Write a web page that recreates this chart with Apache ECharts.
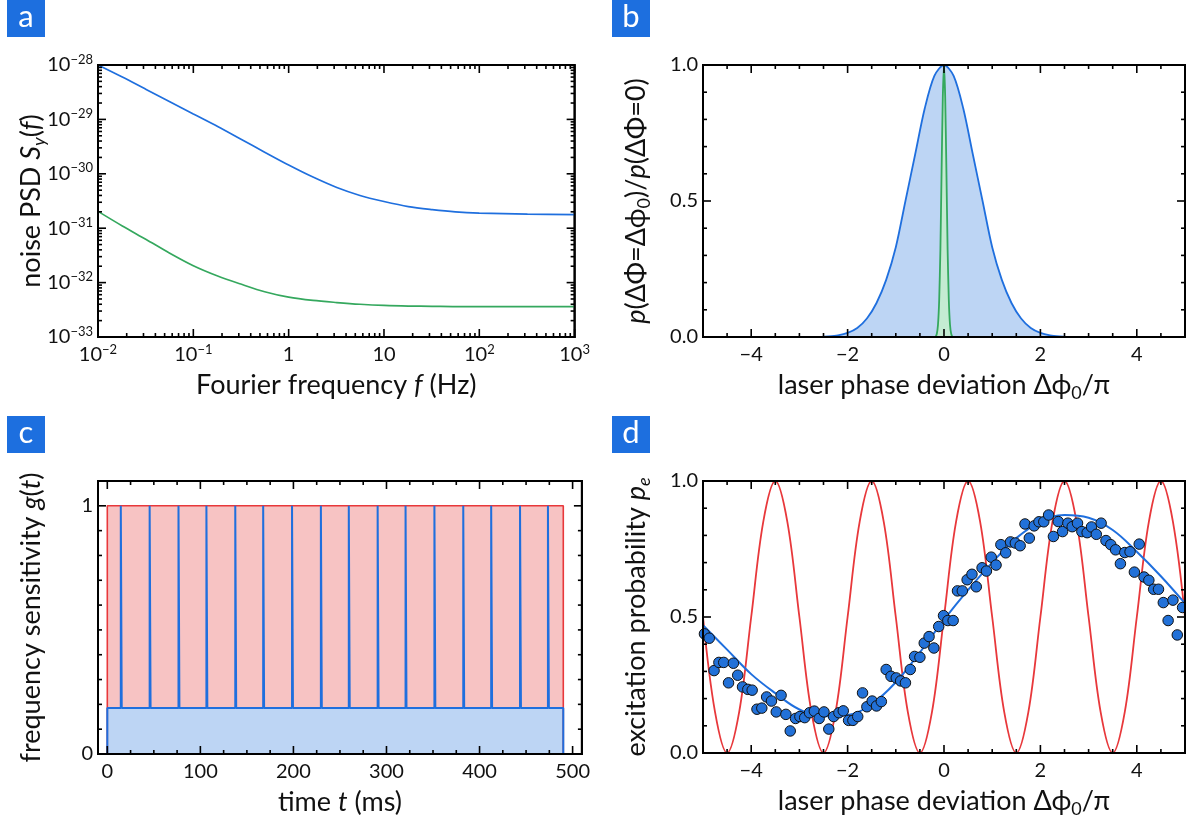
<!DOCTYPE html>
<html>
<head>
<meta charset="utf-8">
<script src="https://cdn.jsdelivr.net/npm/echarts@6/dist/echarts.min.js"></script>
<style>
  html, body { margin: 0; padding: 0; background: #fff; }
  #wrap { position: relative; width: 1186px; height: 823px; }
  .panel { position: absolute; width: 593px; height: 412px; }
</style>
</head>
<body>
<div id="wrap">
  <div id="pa" class="panel" style="left:0;top:0"></div>
  <div id="pb" class="panel" style="left:593px;top:0"></div>
  <div id="pc" class="panel" style="left:0;top:411px"></div>
  <div id="pd" class="panel" style="left:593px;top:411px"></div>
</div>
<script>
// ---- panel a: noise PSD ----
const psdFreq  = [0.01, 0.018, 0.032, 0.056, 0.1, 0.18, 0.32, 0.56, 1, 1.8, 3.2, 5.6, 10, 18, 32, 56, 100, 320, 1000];
const psdBlue  = [1.0e-28, 6.0e-29, 3.55e-29, 2.14e-29, 1.26e-29, 7.4e-30, 4.27e-30, 2.5e-30, 1.45e-30, 8.7e-31, 5.6e-31, 4.0e-31, 3.1e-31, 2.5e-31, 2.2e-31, 2.0e-31, 1.9e-31, 1.82e-31, 1.78e-31];
const psdGreen = [2.04e-31, 1.10e-31, 6.2e-32, 3.5e-32, 2.04e-32, 1.32e-32, 9.3e-33, 6.8e-33, 5.4e-33, 4.7e-33, 4.3e-33, 4.0e-33, 3.8e-33, 3.7e-33, 3.67e-33, 3.63e-33, 3.63e-33, 3.63e-33, 3.63e-33];
// the log axis runs in units of 1e-33 (the v6 log scale loses precision near 1e-33)
const PSD_UNIT_EXP = -33;

// ---- panel b: phase distributions ----
const distX     = [-2.6, -2.4, -2.2, -2.0, -1.8, -1.6, -1.4, -1.2, -1.0, -0.8, -0.6, -0.4, -0.2, 0, 0.2, 0.4, 0.6, 0.8, 1.0, 1.2, 1.4, 1.6, 1.8, 2.0, 2.2, 2.4, 2.6];
const distBlue  = [0, 0.002, 0.006, 0.015, 0.033, 0.068, 0.125, 0.21, 0.33, 0.5, 0.67, 0.84, 0.96, 1, 0.96, 0.84, 0.67, 0.5, 0.33, 0.21, 0.125, 0.068, 0.033, 0.015, 0.006, 0.002, 0];
const narrowX   = [-0.175, -0.15, -0.125, -0.1, -0.075, -0.05, -0.025, 0, 0.025, 0.05, 0.075, 0.1, 0.125, 0.15, 0.175];
const distGreen = [0, 0.011, 0.044, 0.135, 0.32, 0.61, 0.88, 1, 0.88, 0.61, 0.32, 0.135, 0.044, 0.011, 0];

// ---- panel c: sensitivity function ----
const pulseStart = 0;
const pulseEnd = 490;
const baseLevel = 0.185;
const spikeTimes = [15, 46, 77, 107, 138, 168, 199, 230, 260, 291, 321, 352, 383, 413, 444, 474];

// ---- panel d: excitation probability ----
const fringeX = [-5, -4.75, -4.5, -4.25, -4, -3.75, -3.5, -3.25, -3, -2.75, -2.5, -2.25, -2, -1.75, -1.5, -1.25, -1, -0.75, -0.5, -0.25, 0,
                 0.25, 0.5, 0.75, 1, 1.25, 1.5, 1.75, 2, 2.25, 2.5, 2.75, 3, 3.25, 3.5, 3.75, 4, 4.25, 4.5, 4.75, 5];
const fringeRed = [0.5, 0.15, 0, 0.15, 0.5, 0.85, 1, 0.85, 0.5, 0.15, 0, 0.15, 0.5, 0.85, 1, 0.85, 0.5, 0.15, 0, 0.15, 0.5,
                   0.85, 1, 0.85, 0.5, 0.15, 0, 0.15, 0.5, 0.85, 1, 0.85, 0.5, 0.15, 0, 0.15, 0.5, 0.85, 1, 0.85, 0.5];
const fitX    = [-5, -4.5, -4, -3.5, -3, -2.5, -2, -1.5, -1, -0.5, 0, 0.5, 1, 1.5, 2, 2.5, 3, 3.5, 4, 4.5, 5];
const fitBlue = [0.47, 0.38, 0.29, 0.22, 0.16, 0.135, 0.14, 0.18, 0.26, 0.37, 0.49, 0.6, 0.7, 0.79, 0.85, 0.875, 0.865, 0.82, 0.74, 0.65, 0.55];
const measured = [
  [-4.97,0.438],[-4.87,0.422],[-4.77,0.303],[-4.67,0.333],[-4.57,0.333],[-4.47,0.258],[-4.37,0.330],[-4.28,0.286],[-4.18,0.243],[-4.07,0.234],
  [-3.98,0.231],[-3.88,0.161],[-3.78,0.165],[-3.68,0.206],[-3.58,0.191],[-3.48,0.151],[-3.38,0.212],[-3.28,0.142],[-3.19,0.081],[-3.08,0.127],
  [-2.99,0.134],[-2.89,0.130],[-2.79,0.148],[-2.69,0.154],[-2.59,0.127],[-2.49,0.151],[-2.39,0.088],[-2.29,0.134],[-2.18,0.148],[-2.09,0.155],
  [-1.98,0.120],[-1.89,0.120],[-1.79,0.134],[-1.69,0.221],[-1.60,0.170],[-1.49,0.191],[-1.40,0.173],[-1.30,0.189],[-1.20,0.307],[-1.10,0.282],
  [-0.99,0.276],[-0.90,0.265],[-0.80,0.258],[-0.70,0.307],[-0.61,0.355],[-0.50,0.352],[-0.41,0.404],[-0.31,0.428],[-0.21,0.386],[-0.11,0.465],
  [-0.01,0.505],[0.08,0.487],[0.19,0.487],[0.28,0.596],[0.38,0.596],[0.48,0.637],[0.58,0.657],[0.67,0.611],[0.79,0.681],[0.88,0.669],
  [0.98,0.720],[1.08,0.691],[1.18,0.766],[1.28,0.736],[1.38,0.776],[1.48,0.772],[1.58,0.762],[1.68,0.842],[1.77,0.790],[1.87,0.835],
  [1.97,0.850],[2.07,0.850],[2.17,0.875],[2.27,0.796],[2.37,0.851],[2.46,0.814],[2.57,0.845],[2.66,0.832],[2.77,0.845],[2.86,0.814],
  [2.97,0.810],[3.06,0.831],[3.16,0.804],[3.26,0.845],[3.36,0.781],[3.46,0.766],[3.56,0.747],[3.66,0.696],[3.75,0.737],[3.86,0.740],
  [3.95,0.665],[4.05,0.768],[4.15,0.647],[4.25,0.635],[4.35,0.602],[4.45,0.602],[4.55,0.553],[4.65,0.487],[4.75,0.562],[4.84,0.434],[4.95,0.535]
];

// ---- tick values ----
const freqMajor = [0.01, 0.1, 1, 10, 100, 1000];
const psdMajor = [1, 10, 100, 1000, 10000, 100000];   // 1e-33 ... 1e-28
const phaseMajor = [-4, -2, 0, 2, 4];
const probMajor = [0, 0.5, 1];
const timeMajor = [0, 100, 200, 300, 400, 500];
const gMajor = [0, 1];

function logMinors(e0, e1) {
  const out = [];
  for (let e = e0; e < e1; e++) for (let k = 2; k <= 9; k++) out.push(+(k * Math.pow(10, e)).toPrecision(3));
  return out;
}
function linMinors(from, to, step, majors) {
  const out = [];
  for (let v = from; v <= to + 1e-9; v += step) {
    const r = Math.round(v * 1000) / 1000;
    if (majors.indexOf(r) < 0) out.push(r);
  }
  return out;
}

const FONT = 'Lato, sans-serif';
const INK = '#111';
const BLUE = '#1f6fde', BLUE_FILL = '#bdd5f4';
const GREEN = '#35a85e', GREEN_FILL = '#c4ebd2';
const RED = '#e8383b', RED_FILL = '#f7c3c3';

const tickRich = {
  b: { fontSize: 20, fontFamily: FONT, color: INK, lineHeight: 24, verticalAlign: 'middle' },
  s: { fontSize: 13, fontFamily: FONT, color: INK, lineHeight: 13, verticalAlign: 'top' }
};
const nameRich = {
  r: { fontSize: 27, fontFamily: FONT, color: INK, lineHeight: 34, verticalAlign: 'middle' },
  i: { fontSize: 27, fontFamily: FONT, color: INK, lineHeight: 34, fontStyle: 'italic', verticalAlign: 'middle' },
  s: { fontSize: 18, fontFamily: FONT, color: INK, lineHeight: 18, fontStyle: 'italic', verticalAlign: 'bottom' },
  n: { fontSize: 18, fontFamily: FONT, color: INK, lineHeight: 18, verticalAlign: 'bottom' }
};

function sup(e) { return '{b|10}{s|' + (e < 0 ? '\u2212' : '') + Math.abs(e) + '}'; }
function freqLabel(v) {
  const e = Math.round(Math.log10(v));
  if (e === 0) return '{b|1}';
  if (e === 1) return '{b|10}';
  return sup(e);
}
function psdLabel(v) { return sup(Math.round(Math.log10(v)) + PSD_UNIT_EXP); }
function signed(v) { return v < 0 ? '\u2212' + (-v) : String(v); }

function axis(dim, type, min, max, majors, fmt, name, nameGap) {
  const ax = {
    type: type, min: min, max: max, position: dim === 'x' ? 'bottom' : 'left',
    axisLine: { show: true, onZero: false, lineStyle: { color: '#000', width: 2 } },
    axisTick: { show: false },
    axisLabel: { show: true, customValues: majors, formatter: fmt, rich: tickRich, margin: dim === 'x' ? 6 : 5 },
    splitLine: { show: false },
    name: name, nameLocation: 'middle', nameGap: nameGap, nameMoveOverlap: false,
    nameTextStyle: { rich: nameRich }
  };
  if (type === 'log') ax.logBase = 10;
  return ax;
}

function line(data, color, width, extra) {
  return Object.assign({
    type: 'line', data: data, showSymbol: false, symbol: 'none',
    lineStyle: { color: color, width: width }, z: 2
  }, extra || {});
}

// inward ticks on all four sides, drawn through the axis scales with api.coord
function tickSeries(xr, yr) {
  const [xMin, xMax, xMaj, xMnr] = xr;
  const [yMin, yMax, yMaj, yMnr] = yr;
  const data = [];
  xMaj.forEach(v => data.push([v, yMin, 8, 0]));
  xMnr.forEach(v => data.push([v, yMin, 4, 0]));
  yMaj.forEach(v => data.push([xMin, v, 8, 1]));
  yMnr.forEach(v => data.push([xMin, v, 4, 1]));
  data.push([xMin, yMin, 0, 2]);
  return {
    type: 'custom', z: 20, silent: true, clip: false, animation: false,
    dimensions: ['x', 'y', 'len', 'kind'], encode: { x: 0, y: 1 },
    data: data,
    renderItem: function (params, api) {
      const cs = params.coordSys;
      const l = cs.x, t = cs.y, r = cs.x + cs.width, b = cs.y + cs.height;
      const pt = api.coord([api.value(0), api.value(1)]);
      const len = api.value(2), kind = api.value(3);
      const st = { stroke: '#000', lineWidth: 1.6 };
      if (kind === 2) {
        return { type: 'rect', shape: { x: l, y: t, width: r - l, height: b - t },
                 style: { fill: null, stroke: '#000', lineWidth: 2 } };
      }
      if (kind === 0) {
        return { type: 'group', children: [
          { type: 'line', shape: { x1: pt[0], y1: b, x2: pt[0], y2: b - len }, style: st },
          { type: 'line', shape: { x1: pt[0], y1: t, x2: pt[0], y2: t + len }, style: st } ] };
      }
      return { type: 'group', children: [
        { type: 'line', shape: { x1: l, y1: pt[1], x2: l + len, y2: pt[1] }, style: st },
        { type: 'line', shape: { x1: r, y1: pt[1], x2: r - len, y2: pt[1] }, style: st } ] };
    }
  };
}

const zip = (xs, ys) => xs.map((x, i) => [x, ys[i]]);
const toUnit = s => s / Math.pow(10, PSD_UNIT_EXP);
const phaseName = '{r|laser phase deviation \u0394\u03d5}{n|0}{r|/\u03c0}';

const redPulse = [[pulseStart, 0], [pulseStart, 1], [pulseEnd, 1], [pulseEnd, 0]];
const bluePulse = [[pulseStart, 0], [pulseStart, baseLevel]];
spikeTimes.forEach(t => {
  bluePulse.push([t - 0.5, baseLevel], [t - 0.5, 1], [t + 0.5, 1], [t + 0.5, baseLevel]);
});
bluePulse.push([pulseEnd, baseLevel], [pulseEnd, 0]);

const panels = [
  { id: 'pa', letter: 'a', box: [7, 0], grid: { left: 98, top: 65, width: 484, height: 272 },
    x: [0.01, 1000, freqMajor, logMinors(-2, 3)], y: [1, 100000, psdMajor, logMinors(0, 5)],
    xAxis: axis('x', 'log', 0.01, 1000, freqMajor, freqLabel, '{r|Fourier frequency }{i|f}{r| (Hz)}', 31),
    yAxis: axis('y', 'log', 1, 100000, psdMajor, psdLabel, '{r|noise PSD }{i|S}{s|y}{r|(}{i|f}{r|)}', 50),
    series: [
      line(psdFreq.map((f, i) => [f, toUnit(psdBlue[i])]), BLUE, 1.7, { smooth: 0.3 }),
      line(psdFreq.map((f, i) => [f, toUnit(psdGreen[i])]), GREEN, 1.7, { smooth: 0.3 })
    ] },
  { id: 'pb', letter: 'b', box: [19, 0], grid: { left: 110, top: 65, width: 482, height: 272 },
    x: [-5, 5, phaseMajor, linMinors(-4.5, 4.5, 0.5, phaseMajor)], y: [0, 1, probMajor, linMinors(0.1, 0.9, 0.1, probMajor)],
    xAxis: axis('x', 'value', -5, 5, phaseMajor, v => '{b|' + signed(v) + '}', phaseName, 31),
    yAxis: axis('y', 'value', 0, 1, probMajor, v => '{b|' + v.toFixed(1) + '}',
                '{i|p}{r|(\u0394\u03a6=\u0394\u03d5}{n|0}{r|)/}{i|p}{r|(\u0394\u03a6=0)}', 50),
    series: [
      line(zip(distX, distBlue), BLUE, 1.8, { smooth: 0.3, areaStyle: { color: BLUE_FILL, opacity: 1 } }),
      line(zip(narrowX, distGreen), GREEN, 1.8, { smooth: 0.2, areaStyle: { color: GREEN_FILL, opacity: 1 } })
    ] },
  { id: 'pc', letter: 'c', box: [7, 5], grid: { left: 98, top: 70, width: 484, height: 273 },
    x: [-10, 510, timeMajor, linMinors(25, 475, 25, timeMajor)], y: [0, 1.1, gMajor, linMinors(0.1, 0.9, 0.1, gMajor)],
    xAxis: axis('x', 'value', -10, 510, timeMajor, v => '{b|' + v + '}', '{r|time }{i|t}{r| (ms)}', 31),
    yAxis: axis('y', 'value', 0, 1.1, gMajor, v => '{b|' + v + '}', '{r|frequency sensitivity }{i|g}{r|(}{i|t}{r|)}', 50),
    series: [
      line(redPulse, RED, 1.6, { areaStyle: { color: RED_FILL, opacity: 1 } }),
      line(bluePulse, BLUE, 2, { areaStyle: { color: BLUE_FILL, opacity: 1 } })
    ] },
  { id: 'pd', letter: 'd', box: [19, 5], grid: { left: 110, top: 70, width: 482, height: 273 },
    x: [-5, 5, phaseMajor, linMinors(-4.5, 4.5, 0.5, phaseMajor)], y: [0, 1, probMajor, linMinors(0.1, 0.9, 0.1, probMajor)],
    xAxis: axis('x', 'value', -5, 5, phaseMajor, v => '{b|' + signed(v) + '}', phaseName, 31),
    yAxis: axis('y', 'value', 0, 1, probMajor, v => '{b|' + v.toFixed(1) + '}', '{r|excitation probability }{i|p}{s|e}', 50),
    series: [
      line(zip(fringeX, fringeRed), RED, 1.8, { smooth: 0.35 }),
      line(zip(fitX, fitBlue), BLUE, 2, { smooth: 0.4 }),
      {
        type: 'scatter', data: measured, symbol: 'circle', symbolSize: 10.5, z: 3,
        itemStyle: { color: '#2271d8', borderColor: '#111', borderWidth: 1, opacity: 1 }
      }
    ] }
];

panels.forEach(p => {
  const chart = echarts.init(document.getElementById(p.id));
  chart.setOption({
    animation: false,
    backgroundColor: '#fff',
    textStyle: { fontFamily: FONT },
    graphic: [
      { type: 'rect', shape: { x: p.box[0], y: p.box[1], width: 38, height: 37 }, style: { fill: '#1d6fdf' } },
      { type: 'text', x: p.box[0] + 19, y: p.box[1] + 17,
        style: { text: p.letter, fill: '#fff', font: '31px ' + FONT, align: 'center', verticalAlign: 'middle' } }
    ],
    grid: Object.assign({ show: true, borderColor: '#000', borderWidth: 2, backgroundColor: 'transparent' }, p.grid),
    xAxis: p.xAxis,
    yAxis: p.yAxis,
    series: p.series.concat([tickSeries(p.x, p.y)])
  });
});
</script>
</body>
</html>
